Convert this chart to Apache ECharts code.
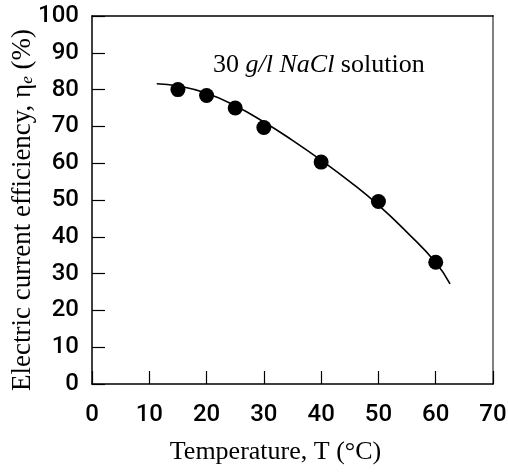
<!DOCTYPE html>
<html>
<head>
<meta charset="utf-8">
<script src="https://cdn.jsdelivr.net/npm/echarts@6/dist/echarts.min.js"></script>
<style>
  html, body { margin: 0; padding: 0; background: #fff; }
  #chart { width: 508px; height: 472px; }
</style>
</head>
<body>
<div id="chart"></div>
<script>
// measured points: temperature (°C) vs current efficiency (%)
const tempPoints = [15, 20, 25, 30, 40, 50, 60];
const effPoints = [80, 78.4, 75, 69.7, 60.3, 49.6, 33.1];

// fitted curve
const curveTemp = [11.3, 15, 20, 25, 30, 35, 40, 45, 50, 55, 60, 62.5];
const curveEff = [81.6, 81.0, 79.0, 75.6, 71.2, 66.2, 60.8, 55.0, 48.6, 41.2, 33.0, 27.2];

const xTicks = [0, 10, 20, 30, 40, 50, 60, 70];
const yTicks = [0, 10, 20, 30, 40, 50, 60, 70, 80, 90, 100];

const tickFont = 'Roboto, "DejaVu Sans", sans-serif';
const serif = '"Liberation Serif", "DejaVu Serif", serif';

const chart = echarts.init(document.getElementById('chart'), null, { renderer: 'canvas' });

const pairs = (xs, ys) => xs.map((x, i) => [x, ys[i]]);

chart.setOption({
  animation: false,
  backgroundColor: '#fff',
  grid: { left: 92, top: 16, right: 15, bottom: 88, containLabel: false, outerBoundsMode: 'none' },
  xAxis: [{
    type: 'value',
    min: xTicks[0],
    max: xTicks[xTicks.length - 1],
    interval: 10,
    name: 'Temperature, T (°C)',
    nameLocation: 'middle',
    nameGap: 55,
    nameTextStyle: { fontFamily: serif, fontSize: 26, color: '#000', padding: [0, 34, 0, 0] },
    axisLine: { onZero: false, lineStyle: { color: '#000', width: 1.5 } },
    axisTick: { inside: true, length: 13, lineStyle: { color: '#000', width: 1.2 } },
    axisLabel: { fontFamily: tickFont, fontSize: 24, fontWeight: 500, color: '#000', margin: 19 },
    splitLine: { show: false }
  }, {
    type: 'value',
    position: 'top',
    min: xTicks[0],
    max: xTicks[xTicks.length - 1],
    axisLine: { show: true, onZero: false, lineStyle: { color: '#000', width: 1.5 } },
    axisTick: { show: false },
    axisLabel: { show: false },
    splitLine: { show: false }
  }],
  yAxis: [{
    type: 'value',
    min: yTicks[0],
    max: yTicks[yTicks.length - 1],
    interval: 10,
    name: '{t|Electric current efficiency, η}{s|e}{t| (%)}',
    nameLocation: 'middle',
    nameGap: 56,
    nameMoveOverlap: false,
    nameRotate: 90,
    nameTextStyle: {
      fontFamily: serif, fontSize: 27, color: '#000', padding: [0, 20, 0, 0],
      rich: {
        t: { fontFamily: serif, fontSize: 27, color: '#000' },
        s: { fontFamily: serif, fontSize: 17, fontStyle: 'italic', color: '#000', padding: [10, 0, 0, 0] }
      }
    },
    axisLine: { onZero: false, lineStyle: { color: '#000', width: 1.5 } },
    axisTick: { inside: true, length: 13, lineStyle: { color: '#000', width: 1.2 } },
    axisLabel: { fontFamily: tickFont, fontSize: 24, fontWeight: 500, color: '#000', margin: 13 },
    splitLine: { show: false }
  }, {
    type: 'value',
    position: 'right',
    min: yTicks[0],
    max: yTicks[yTicks.length - 1],
    axisLine: { show: true, onZero: false, lineStyle: { color: '#808080', width: 2 } },
    axisTick: { show: false },
    axisLabel: { show: false },
    splitLine: { show: false }
  }],
  graphic: [{
    type: 'text',
    left: 213,
    top: 52,
    style: {
      text: '{n|30 }{i|g/l NaCl}{n| solution}',
      rich: {
        n: { fontFamily: serif, fontSize: 26, fill: '#000' },
        i: { fontFamily: serif, fontSize: 26, fontStyle: 'italic', fill: '#000' }
      }
    }
  }],
  series: [{
    type: 'line',
    data: pairs(curveTemp, curveEff),
    smooth: true,
    showSymbol: false,
    lineStyle: { color: '#000', width: 1.6 },
    z: 2
  }, {
    type: 'scatter',
    data: pairs(tempPoints, effPoints),
    symbol: 'circle',
    symbolSize: 15,
    itemStyle: { color: '#000', opacity: 1 },
    z: 3
  }]
});
</script>
</body>
</html>
